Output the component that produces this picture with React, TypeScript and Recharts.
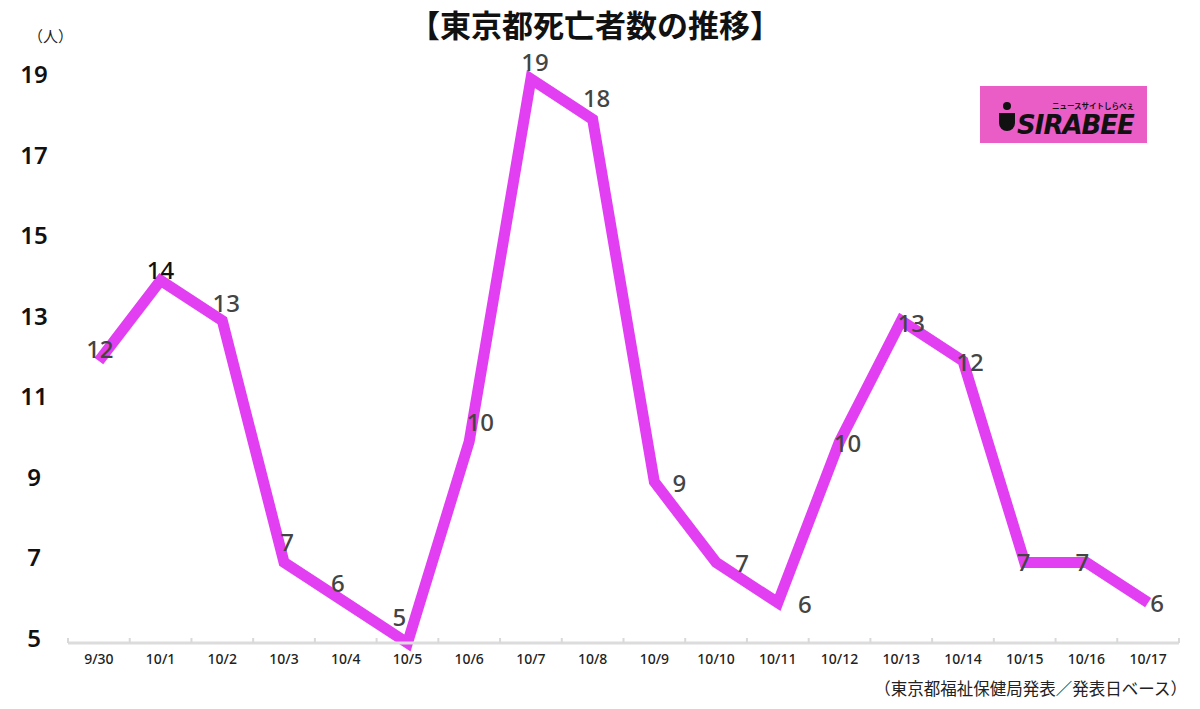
import React from "react";
import { LineChart, Line, XAxis, YAxis, LabelList } from "recharts";

const categories = ["9/30", "10/1", "10/2", "10/3", "10/4", "10/5", "10/6", "10/7", "10/8", "10/9", "10/10", "10/11", "10/12", "10/13", "10/14", "10/15", "10/16", "10/17"];
const deaths = [12, 14, 13, 7, 6, 5, 10, 19, 18, 9, 7, 6, 10, 13, 12, 7, 7, 6];
const yTicks = [5, 7, 9, 11, 13, 15, 17, 19];

// label placement offsets (style only)
const labelDx = [1, 0, 4, 3, -8, -8, 11, 4, 4, 25, 26, 27, 8, 10, 7, -1, -4, 9];
const labelDy = [-12, -10, -18, -20, -20, -26, -20, -17, -21, 1, 1, 1, 1, 2, 1, 0, 0, 0];

const data = categories.map((c, i) => ({ date: c, value: deaths[i], idx: i }));

const FONT = "'Noto Sans CJK JP', 'Noto Sans', sans-serif";
const NUM_FONT = "'Noto Sans', 'Open Sans', sans-serif";
const LINE_COLOR = "#e23ff2";
const BAND = (1200 - 68 - 21) / 18;

const XTick = (props: any) => {
  const { x, y, payload, index } = props;
  const isLast = index === categories.length - 1;
  return (
    <g>
      <line x1={x - BAND / 2} x2={x - BAND / 2} y1={y - 13} y2={y - 8} stroke="#d9d9d9" strokeWidth={2} />
      {isLast && <line x1={x + BAND / 2} x2={x + BAND / 2} y1={y - 13} y2={y - 8} stroke="#d9d9d9" strokeWidth={2} />}
      <text x={x} y={y + 13} textAnchor="middle" fontSize={14} fontWeight={500} fill="#222" fontFamily={NUM_FONT}>
        {payload.value}
      </text>
    </g>
  );
};

const YTick = (props: any) => {
  const { y, payload } = props;
  return (
    <text x={34} y={y + 4} textAnchor="middle" fontSize={24} fontWeight={600} fill="#111" fontFamily={NUM_FONT}>
      {payload.value}
    </text>
  );
};

const PointLabel = (props: any) => {
  const { x, y, value, index } = props;
  return (
    <text
      x={x + labelDx[index]}
      y={y + labelDy[index] + 9}
      textAnchor="middle"
      fontSize={24}
      fontWeight={500}
      fill={index === 1 ? "#111" : "#444"}
      fontFamily={NUM_FONT}
    >
      {value}
    </text>
  );
};

export default function App() {
  return (
    <div style={{ position: "absolute", left: 0, top: 0, width: 1200, height: 709, background: "#fff", fontFamily: FONT }}>
      <div style={{ position: "absolute", left: 0, top: 1, width: 1190, textAlign: "center", fontSize: 31, fontWeight: 700, color: "#111" }}>
        【東京都死亡者数の推移】
      </div>
      <div style={{ position: "absolute", left: 28, top: 25, fontSize: 15, color: "#222" }}>（人）</div>
      <div style={{ position: "absolute", right: 13, top: 676, fontSize: 16.5, color: "#222" }}>
        （東京都福祉保健局発表／発表日ベース）
      </div>
      <div
        style={{
          position: "absolute",
          left: 980,
          top: 86,
          width: 167,
          height: 57,
          background: "#ea5cc6",
        }}
      >
        <div style={{ position: "absolute", left: 19, top: 16, width: 16, height: 30 }}>
          <div style={{ position: "absolute", left: 4, top: 0, width: 8, height: 8, borderRadius: 4, background: "#111" }} />
          <div style={{ position: "absolute", left: 0, top: 11, width: 16, height: 18, borderRadius: "0 0 9px 9px", background: "#111" }} />
        </div>
        <div style={{ position: "absolute", left: 72, top: 14, fontSize: 7.5, fontWeight: 700, color: "#111", whiteSpace: "nowrap" }}>
          ニュースサイトしらべぇ
        </div>
        <div
          style={{
            position: "absolute",
            left: 37,
            top: 25,
            fontSize: 26,
            fontWeight: 900,
            fontStyle: "italic",
            color: "#111",
            fontFamily: "'DejaVu Sans', sans-serif",
            letterSpacing: -1,
            lineHeight: "28px",
          }}
        >
          SIRABEE
        </div>
      </div>
      <div style={{ position: "absolute", left: 0, top: 0 }}>
        <LineChart width={1200} height={709} data={data} margin={{ top: 79, right: 21, bottom: 36, left: 0 }}>
          <XAxis
            dataKey="date"
            scale="band"
            axisLine={{ stroke: "#dcdcdc", strokeWidth: 3 }}
            tickLine={false}
            tick={<XTick />}
            interval={0}
            height={30}
          />
          <YAxis
            domain={[5, 19]}
            ticks={yTicks}
            width={68}
            axisLine={false}
            tickLine={false}
            tick={<YTick />}
            interval={0}
          />
          <Line
            type="linear"
            dataKey="value"
            stroke={LINE_COLOR}
            strokeWidth={11}
            strokeLinejoin="miter"
            dot={false}
            isAnimationActive={false}
          >
            <LabelList dataKey="value" content={<PointLabel />} />
          </Line>
        </LineChart>
      </div>
    </div>
  );
}
